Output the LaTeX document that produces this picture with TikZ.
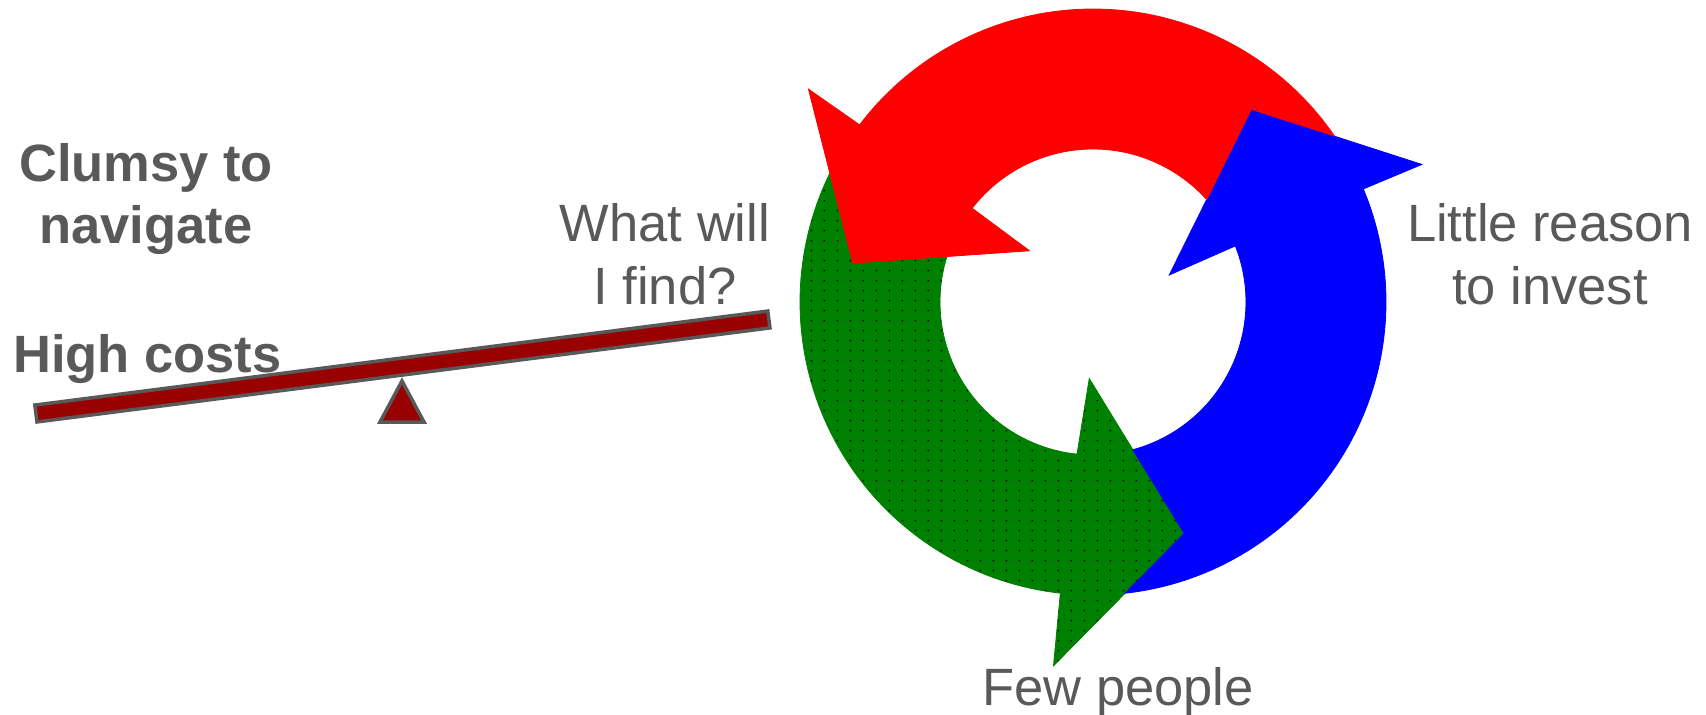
\documentclass[tikz,border=0pt]{standalone}
\usepackage{fontspec}
\setmainfont{Liberation Sans}
\usetikzlibrary{patterns}

\definecolor{labelgray}{RGB}{89,89,89}
\definecolor{beamred}{RGB}{153,0,0}
\definecolor{cycred}{RGB}{255,0,0}
\definecolor{cycblue}{RGB}{0,0,255}
\definecolor{cycgreen}{RGB}{0,128,0}

% fine black specks on the green arrow
\pgfdeclarepatternformonly{speckle}{\pgfqpoint{0pt}{0pt}}{\pgfqpoint{13pt}{10pt}}{\pgfqpoint{13pt}{10pt}}{%
  \pgfpathrectangle{\pgfqpoint{5pt}{4pt}}{\pgfqpoint{1.6pt}{1.6pt}}\pgfusepath{fill}}

\begin{document}
\begin{tikzpicture}[x=1pt, y=-1pt,
    sidetext/.style={text=labelgray, font=\fontsize{52.5}{63}\selectfont, align=center, inner sep=0pt},
    boldtext/.style={sidetext, font=\fontsize{52.5}{62}\selectfont\bfseries},
    beam/.style={draw=labelgray, fill=beamred, line width=3.5pt, inner sep=0pt},
    fulcrum/.style={draw=labelgray, fill=beamred, line width=3.5pt, line join=miter},
    redarrow/.style={fill=cycred, draw=cycred, line width=0.8pt},
    bluearrow/.style={fill=cycblue, draw=cycblue, line width=0.8pt},
    greenarrow/.style={fill=cycgreen, draw=cycgreen, line width=0.8pt,
        postaction={pattern=speckle, pattern color=black}}]

        \useasboundingbox (0,0) rectangle (1706,715);

        % Left side labels
        \node[boldtext, anchor=base] (clumsy) at (146,243) {Clumsy to\\navigate};
        \node[boldtext, anchor=base west] (costs) at (13,372.5) {High costs};

        % Seesaw
        \draw[fulcrum] (402,381) -- (380,422) -- (424,422) -- cycle;
        \node[beam, rotate=7.31, minimum width=739, minimum height=17] (plank) at (402.4,366.5) {};

        \node[sidetext, anchor=base] (find) at (665,304.3) {What will\\I find?};

        % Cycle of three arrows
        \begin{scope}[shift={(1093,302)}]
            \coordinate (redtip) at (-170.8:243.4);
            \coordinate (bluetip) at (-50.6:249.4);
            \coordinate (greentip) at (68.5:248.7);

            % Green arrow
            \fill[greenarrow] (206.1:293) arc[start angle=206.1, end angle=96.4, radius=293]
                -- (96.2:366) -- (greentip) -- (92.8:76.6)
                -- (96:153) arc[start angle=96, end angle=197.3, radius=153]
                -- (redtip) -- cycle;

            % Blue arrow
            \fill[bluearrow] (83.7:293) arc[start angle=83.7, end angle=-22.7, radius=293]
                -- (-22.7:356.5) -- (bluetip) -- (-19.5:80.9)
                -- (-21.5:153) arc[start angle=-21.5, end angle=74.9, radius=153]
                -- (greentip) -- cycle;

            % Red arrow
            \fill[redarrow] (-34.5:293) arc[start angle=-34.5, end angle=-142.8, radius=293]
                -- (-143.2:355.4) -- (redtip) -- (-141.1:81.6)
                -- (-142.2:153) arc[start angle=-142.2, end angle=-42, radius=153]
                -- (bluetip) -- cycle;
        \end{scope}

        % Labels round the cycle
        \node[sidetext, anchor=base] (invest) at (1550,304.3) {Little reason\\to invest};
        \node[sidetext, anchor=base] (people) at (1118,705) {Few people};

\end{tikzpicture}
\end{document}
